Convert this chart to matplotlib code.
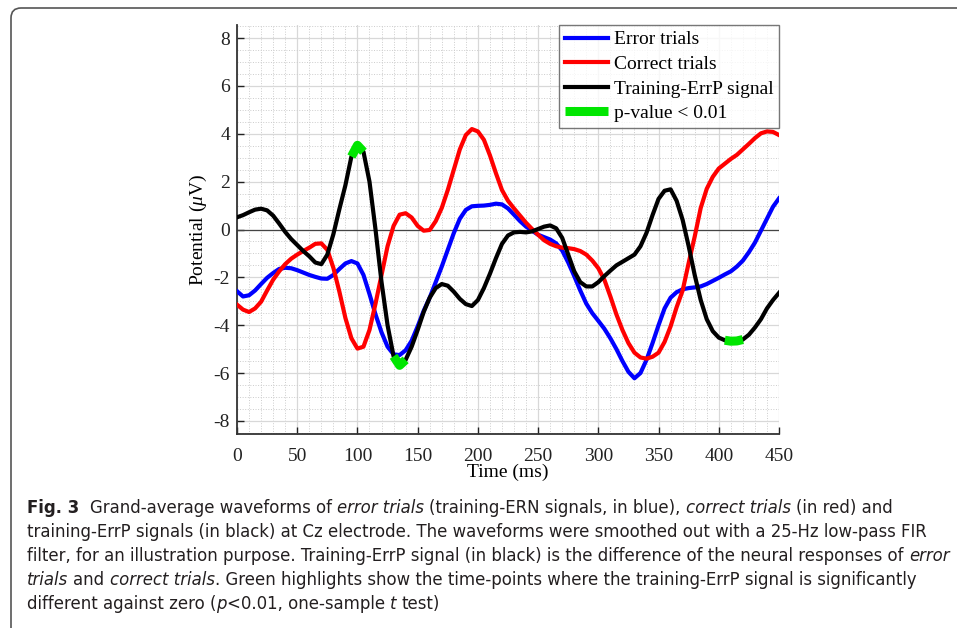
import numpy as np
import matplotlib
matplotlib.use("Agg")
import matplotlib.pyplot as plt
from matplotlib import font_manager
from matplotlib.patches import FancyBboxPatch
from matplotlib.transforms import IdentityTransform
from matplotlib.ticker import MultipleLocator

# time axis (ms), one sample every 5 ms
time_ms = np.arange(0, 451, 5)

error_trials = [
    -2.58, -2.80, -2.75, -2.55, -2.28, -2.02, -1.82, -1.65, -1.60, -1.62,
    -1.70, -1.80, -1.90, -1.98, -2.05, -2.06, -1.90, -1.65, -1.42, -1.32,
    -1.42, -1.90, -2.70, -3.55, -4.30, -4.90, -5.22, -5.25, -5.05, -4.65,
    -4.05, -3.40, -2.85, -2.20, -1.55, -0.85, -0.15, 0.45, 0.82, 0.97,
    0.99, 1.00, 1.03, 1.08, 1.05, 0.88, 0.62, 0.35, 0.12, -0.05,
    -0.22, -0.32, -0.42, -0.58, -0.88, -1.38, -1.95, -2.55, -3.10, -3.50,
    -3.82, -4.15, -4.55, -5.00, -5.50, -5.95, -6.22, -6.00, -5.45, -4.75,
    -4.00, -3.30, -2.85, -2.62, -2.50, -2.45, -2.42, -2.38, -2.28, -2.15,
    -2.02, -1.88, -1.75, -1.55, -1.30, -0.95, -0.55, -0.05, 0.45, 0.95,
    1.30,
]

correct_trials = [
    -3.14, -3.35, -3.45, -3.30, -3.02, -2.55, -2.10, -1.75, -1.45, -1.22,
    -1.05, -0.90, -0.76, -0.60, -0.58, -0.85, -1.60, -2.60, -3.70, -4.55,
    -4.98, -4.90, -4.20, -3.10, -1.90, -0.70, 0.15, 0.62, 0.68, 0.50,
    0.15, -0.05, -0.02, 0.35, 0.90, 1.65, 2.50, 3.35, 3.95, 4.20,
    4.10, 3.75, 3.10, 2.35, 1.65, 1.20, 0.88, 0.58, 0.28, 0.02,
    -0.22, -0.45, -0.60, -0.70, -0.76, -0.78, -0.82, -0.90, -1.05, -1.30,
    -1.62, -2.10, -2.80, -3.55, -4.20, -4.75, -5.15, -5.35, -5.40, -5.32,
    -5.15, -4.70, -4.05, -3.25, -2.55, -1.40, -0.30, 0.90, 1.70, 2.20,
    2.55, 2.75, 2.95, 3.12, 3.35, 3.58, 3.82, 4.02, 4.10, 4.08,
    3.95,
]

errp_signal = [
    0.51, 0.60, 0.72, 0.83, 0.87, 0.80, 0.58, 0.25, -0.10, -0.40,
    -0.65, -0.90, -1.12, -1.38, -1.45, -1.05, -0.20, 0.85, 1.85, 3.05,
    3.52, 3.25, 2.00, 0.00, -2.20, -4.00, -5.30, -5.68, -5.45, -4.90,
    -4.20, -3.45, -2.85, -2.45, -2.28, -2.35, -2.60, -2.90, -3.12, -3.20,
    -2.95, -2.45, -1.85, -1.20, -0.60, -0.25, -0.12, -0.10, -0.12, -0.08,
    0.02, 0.12, 0.17, 0.05, -0.35, -1.05, -1.75, -2.20, -2.38, -2.38,
    -2.20, -1.95, -1.72, -1.50, -1.35, -1.20, -1.05, -0.70, -0.14, 0.60,
    1.28, 1.62, 1.68, 1.20, 0.40, -0.70, -1.90, -2.95, -3.75, -4.25,
    -4.52, -4.63, -4.67, -4.66, -4.60, -4.40, -4.10, -3.75, -3.30, -2.95,
    -2.65,
]

# windows (ms) where p < 0.01
sig_windows = [(95, 105), (130, 140), (405, 420)]

# caption, one list of (text, style) pieces per line; b = bold, i = italic, n = normal
caption = [
    [("Fig. 3", "b"), ("  Grand-average waveforms of ", "n"), ("error trials", "i"),
     (" (training-ERN signals, in blue), ", "n"), ("correct trials", "i"), (" (in red) and", "n")],
    [("training-ErrP signals (in black) at Cz electrode. The waveforms were smoothed out with a 25-Hz low-pass FIR", "n")],
    [("filter, for an illustration purpose. Training-ErrP signal (in black) is the difference of the neural responses of ", "n"),
     ("error", "i")],
    [("trials", "i"), (" and ", "n"), ("correct trials", "i"),
     (". Green highlights show the time-points where the training-ErrP signal is significantly", "n")],
    [("different against zero (", "n"), ("p", "i"), ("<0.01, one-sample ", "n"), ("t", "i"), (" test)", "n")],
]

# pick a narrow sans face for the caption if one is installed
cap_family, cap_stretch = "Lato", "normal"
for f in font_manager.fontManager.ttflist:
    if "Narrow" in f.name or "Condensed" in f.name:
        cap_family, cap_stretch = f.name, "normal"
        break
    if str(f.stretch) in ("condensed", "semi-condensed") and f.name in ("DejaVu Sans", "Noto Sans", "Open Sans"):
        cap_family, cap_stretch = f.name, f.stretch
        break

plt.rcParams["font.family"] = "Liberation Serif"
plt.rcParams["axes.unicode_minus"] = False
plt.rcParams["mathtext.fontset"] = "custom"
plt.rcParams["mathtext.rm"] = "Liberation Serif"
plt.rcParams["mathtext.it"] = "Liberation Serif:italic"

fig = plt.figure(figsize=(9.57, 6.28), dpi=100)
ax = fig.add_axes([237 / 957, 1 - 434 / 628, 542 / 957, 409 / 628])

t = np.array(time_ms)
blk = np.array(errp_signal)

ax.axhline(0, color="#444444", lw=0.9, zorder=2)
ax.plot(t, error_trials, color="#0000ff", lw=3.0, label="Error trials", zorder=3)
ax.plot(t, correct_trials, color="#ff0000", lw=3.0, label="Correct trials", zorder=3)
ax.plot(t, blk, color="black", lw=3.0, label="Training-ErrP signal", zorder=4)
for i, (a, b) in enumerate(sig_windows):
    m = (t >= a) & (t <= b)
    ax.plot(t[m], blk[m], color="#00e600", lw=6.5, solid_capstyle="butt",
            label="p-value < 0.01" if i == 0 else None, zorder=5)

ax.set_xlim(0, 450)
ax.set_ylim(-8.55, 8.55)
ax.xaxis.set_major_locator(MultipleLocator(50))
ax.xaxis.set_minor_locator(MultipleLocator(10))
ax.yaxis.set_major_locator(MultipleLocator(2))
ax.yaxis.set_minor_locator(MultipleLocator(0.5))
ax.grid(which="major", color="#d8d8d8", lw=0.9, ls="-")
ax.grid(which="minor", color="#cccccc", lw=0.7, ls=":")
ax.set_axisbelow(True)
ax.tick_params(which="major", direction="in", length=5, width=1.0,
               labelsize=14, colors="#222222")
ax.tick_params(axis="x", pad=10)
ax.tick_params(axis="y", pad=5)
ax.tick_params(which="minor", length=0)
for s in ("top", "right"):
    ax.spines[s].set_visible(False)
for s in ("left", "bottom"):
    ax.spines[s].set_color("#333333")
    ax.spines[s].set_linewidth(1.3)

ax.set_xlabel("Time (ms)", fontsize=14, labelpad=-1)
ax.set_ylabel("Potential ($\\mu$V)", fontsize=14, labelpad=3)

leg = ax.legend(loc="upper right", fontsize=14, frameon=True, fancybox=False,
                borderaxespad=0, handlelength=2.2, handletextpad=0.28,
                labelspacing=0.36, borderpad=0.3)
leg.get_frame().set_edgecolor("#555555")
leg.get_frame().set_linewidth(1.0)

# outer rounded frame
frame = FancyBboxPatch((11, -60), 1000, 680, boxstyle="round,pad=0,rounding_size=10",
                       transform=IdentityTransform(), fill=False, ec="#555555", lw=1.2)
fig.patches.append(frame)

# caption, drawn piece by piece in display pixels
renderer = fig.canvas.get_renderer()


def piece(x, y, s, style, size):
    return fig.text(x, y, s, transform=IdentityTransform(), fontsize=size,
                    family=cap_family, fontstretch=cap_stretch, color="#231f20",
                    fontweight="bold" if style == "b" else "normal",
                    fontstyle="italic" if style == "i" else "normal",
                    ha="left", va="baseline")


def space_width(style, size):
    a = piece(0, 0, "x x", style, size)
    b = piece(0, 0, "xx", style, size)
    w = a.get_window_extent(renderer).width - b.get_window_extent(renderer).width
    a.remove()
    b.remove()
    return w


def draw_line(segs, x0, y, size):
    x = x0
    made = []
    for s, style in segs:
        sw = space_width(style, size)
        lead = len(s) - len(s.lstrip(" "))
        trail = len(s) - len(s.rstrip(" "))
        x += lead * sw
        tx = piece(x, y, s.strip(" "), style, size)
        made.append(tx)
        x = tx.get_window_extent(renderer).x1 + trail * sw
    return made, x - x0


# scale the caption so that its second line spans the width seen in the figure
probe, w = draw_line(caption[1], 27, 0, 13)
for p in probe:
    p.remove()
cap_size = 13 * (925 - 27) / w

for k, segs in enumerate(caption):
    draw_line(segs, 27, 628 - (513 + k * 24), cap_size)

fig.savefig("out.png", dpi=100)
